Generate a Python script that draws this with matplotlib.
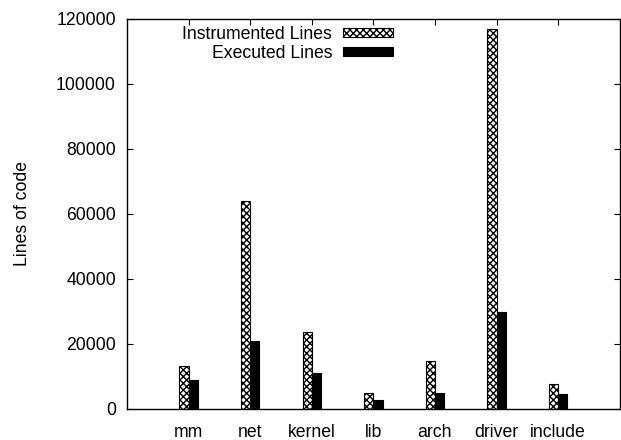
import numpy as np
import matplotlib
matplotlib.use("Agg")
import matplotlib.pyplot as plt

categories = ["mm", "net", "kernel", "lib", "arch", "driver", "include"]
instrumented = [13000, 63900, 23500, 4900, 14800, 116700, 7600]
executed = [8700, 20800, 10900, 2800, 4700, 29900, 4600]

plt.rcParams["font.family"] = ["Liberation Sans", "DejaVu Sans"]
plt.rcParams["font.size"] = 12.7
plt.rcParams["hatch.linewidth"] = 1.0

fig = plt.figure(figsize=(6.21, 4.40), dpi=100)
ax = fig.add_axes([0.2045, 0.0711, 0.7935, 0.8864])

x = np.arange(len(categories))
w = 0.15
ax.bar(x - w / 2, instrumented, w, color="white", edgecolor="black",
       hatch="xxxxx", linewidth=0.8, label="Instrumented Lines")
ax.bar(x + w / 2, executed, w, color="black", edgecolor="black",
       linewidth=0.8, label="Executed Lines")

ax.set_xlim(-1, 7)
ax.set_ylim(0, 120000)
ax.set_yticks(range(0, 120001, 20000))
ax.set_xticks(x)
ax.set_xticklabels(categories)
ax.tick_params(direction="in", length=4, width=0.8, top=True, right=True)
ax.tick_params(axis="y", pad=8)
ax.tick_params(axis="x", pad=11)
for s in ax.spines.values():
    s.set_linewidth(1.0)

ax.set_ylabel("Lines of code", labelpad=18)

ax.legend(loc="upper right", bbox_to_anchor=(0.633, 0.941),
          bbox_transform=fig.transFigure, frameon=False, markerfirst=False,
          handlelength=2.85, handleheight=0.4, handletextpad=0.6,
          labelspacing=0.12, borderpad=0, borderaxespad=0)

fig.savefig("out.png", dpi=100)
